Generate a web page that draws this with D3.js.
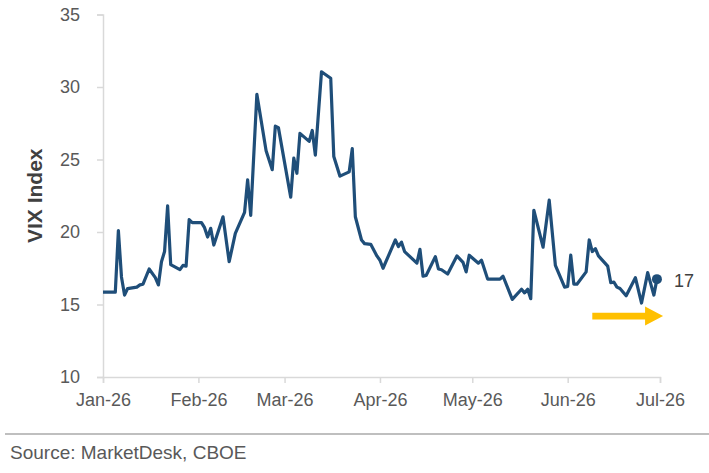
<!DOCTYPE html>
<html>
<head>
<meta charset="utf-8">
<script src="https://cdn.jsdelivr.net/npm/d3@7"></script>
<style>
  html, body { margin: 0; padding: 0; background: #fff; }
  svg { display: block; font-family: "Liberation Sans", Arial, sans-serif; }
</style>
</head>
<body>
<div id="chart"></div>
<script>
// VIX Index, daily closes (2026)
const dates = [
  '2026-01-01', '2026-01-05', '2026-01-06', '2026-01-07', '2026-01-08', '2026-01-09',
  '2026-01-12', '2026-01-13', '2026-01-14', '2026-01-16', '2026-01-18', '2026-01-19',
  '2026-01-20', '2026-01-21', '2026-01-22', '2026-01-23', '2026-01-26', '2026-01-27',
  '2026-01-28', '2026-01-29', '2026-01-30', '2026-02-02', '2026-02-03', '2026-02-04',
  '2026-02-05', '2026-02-06', '2026-02-09', '2026-02-11', '2026-02-13', '2026-02-16',
  '2026-02-17', '2026-02-18', '2026-02-20', '2026-02-23', '2026-02-25', '2026-02-26',
  '2026-02-27', '2026-03-03', '2026-03-04', '2026-03-05', '2026-03-06', '2026-03-09',
  '2026-03-10', '2026-03-11', '2026-03-13', '2026-03-16', '2026-03-17', '2026-03-19',
  '2026-03-22', '2026-03-23', '2026-03-24', '2026-03-26', '2026-03-27', '2026-03-29',
  '2026-03-31', '2026-04-01', '2026-04-02', '2026-04-06', '2026-04-07', '2026-04-08',
  '2026-04-09', '2026-04-13', '2026-04-14', '2026-04-15', '2026-04-16', '2026-04-19',
  '2026-04-20', '2026-04-21', '2026-04-23', '2026-04-26', '2026-04-28', '2026-04-29',
  '2026-04-30', '2026-05-03', '2026-05-04', '2026-05-06', '2026-05-10', '2026-05-11',
  '2026-05-14', '2026-05-17', '2026-05-18', '2026-05-19', '2026-05-20', '2026-05-21',
  '2026-05-24', '2026-05-26', '2026-05-28', '2026-05-31', '2026-06-01', '2026-06-02',
  '2026-06-03', '2026-06-04', '2026-06-07', '2026-06-08', '2026-06-09', '2026-06-10',
  '2026-06-11', '2026-06-14', '2026-06-15', '2026-06-16', '2026-06-17', '2026-06-18',
  '2026-06-20', '2026-06-23', '2026-06-25', '2026-06-27', '2026-06-29', '2026-06-30'
];
const vix = [
  15.85, 15.85, 20.1, 16.9, 15.65, 16.1,
  16.2, 16.35, 16.4, 17.45, 16.85, 16.35,
  17.95, 18.65, 21.8, 17.75, 17.4, 17.7,
  17.65, 20.85, 20.65, 20.65, 20.3, 19.65,
  20.25, 19.1, 21.05, 17.95, 19.9, 21.35,
  23.6, 21.15, 29.5, 25.6, 24.3, 27.3,
  27.2, 22.4, 25.1, 24.05, 26.8, 26.25,
  27.0, 25.3, 31.05, 30.6, 25.2, 23.85,
  24.15, 25.75, 21.05, 19.45, 19.2, 19.15,
  18.35, 18.05, 17.5, 19.45, 19.0, 19.3,
  18.65, 17.85, 18.8, 16.95, 17.0, 18.3,
  17.45, 17.4, 17.1, 18.35, 17.9, 17.25,
  18.4, 17.85, 18.05, 16.75, 16.75, 16.95,
  15.35, 16.05, 15.8, 16.05, 15.4, 21.5,
  18.95, 22.2, 17.7, 16.2, 16.25, 18.4,
  16.4, 16.4, 17.25, 19.45, 18.65, 18.85,
  18.35, 17.65, 16.5, 16.55, 16.2, 16.1,
  15.6, 16.85, 15.1, 17.2, 15.65, 16.75
];
const monthTicks = ['2026-01-01', '2026-02-01', '2026-03-01', '2026-04-01', '2026-05-01', '2026-06-01', '2026-07-01'];
const yTicks = [10, 15, 20, 25, 30, 35];
const lastLabel = '17';
const arrowSpan = ['2026-06-09', '2026-07-02']; // yellow "trend" arrow
const arrowLevel = 14.2;

const W = 709, H = 473;
const MARGIN = { top: 14.5, right: 49, bottom: 96, left: 103 };
const AXIS_COLOR = '#d9d9d9';
const TEXT_COLOR = '#595959';
const LINE_COLOR = '#1f4e79';

const parse = d3.timeParse('%Y-%m-%d');
const series = dates.map((d, i) => ({ date: parse(d), value: vix[i] }));

const svg = d3.select('#chart').append('svg')
  .attr('width', W)
  .attr('height', H);

const x = d3.scaleTime()
  .domain([parse(monthTicks[0]), parse(monthTicks[monthTicks.length - 1])])
  .range([MARGIN.left, W - MARGIN.right]);

const y = d3.scaleLinear()
  .domain([10, 35])
  .range([H - MARGIN.bottom, MARGIN.top]);

// y axis
const yAxis = svg.append('g')
  .attr('transform', `translate(${MARGIN.left},0)`)
  .call(d3.axisLeft(y).tickValues(yTicks).tickSize(6).tickPadding(17).tickFormat(d3.format('d')));
yAxis.select('.domain').attr('stroke', AXIS_COLOR).attr('stroke-width', 1.5);
yAxis.selectAll('.tick line').attr('stroke', AXIS_COLOR).attr('stroke-width', 1.5);
yAxis.selectAll('.tick text')
  .attr('fill', TEXT_COLOR)
  .style('font-size', '18px');

// x axis
const xAxis = svg.append('g')
  .attr('transform', `translate(0,${y(10)})`)
  .call(d3.axisBottom(x).tickValues(monthTicks.map(parse)).tickSize(6).tickPadding(10)
    .tickFormat(d3.timeFormat('%b-%y')));
xAxis.select('.domain').attr('stroke', AXIS_COLOR).attr('stroke-width', 1.5);
xAxis.selectAll('.tick line').attr('stroke', AXIS_COLOR).attr('stroke-width', 1.5);
xAxis.selectAll('.tick text')
  .attr('fill', TEXT_COLOR)
  .style('font-size', '18px');

// y label
svg.append('text')
  .attr('transform', `translate(42,${(y(10) + y(35)) / 2}) rotate(-90)`)
  .attr('text-anchor', 'middle')
  .attr('fill', '#404040')
  .style('font-size', '21px')
  .style('font-weight', 'bold')
  .text('VIX Index');

// series line
const line = d3.line()
  .x(d => x(d.date))
  .y(d => y(d.value));

svg.append('path')
  .datum(series)
  .attr('fill', 'none')
  .attr('stroke', LINE_COLOR)
  .attr('stroke-width', 3.2)
  .attr('stroke-linejoin', 'round')
  .attr('d', line);

const last = series[series.length - 1];
svg.append('circle')
  .attr('cx', x(last.date))
  .attr('cy', y(last.value))
  .attr('r', 5)
  .attr('fill', LINE_COLOR);

svg.append('text')
  .attr('x', x(last.date) + 17)
  .attr('y', y(last.value) + 8)
  .attr('fill', '#404040')
  .style('font-size', '18px')
  .text(lastLabel);

// yellow arrow
const ax0 = x(parse(arrowSpan[0]));
const ax1 = x(parse(arrowSpan[1]));
const ay = y(arrowLevel);
const headLen = 18, headHalf = 9.5, shaftHalf = 3.3;
svg.append('path')
  .attr('fill', '#ffc000')
  .attr('d', `M${ax0},${ay - shaftHalf} L${ax1 - headLen},${ay - shaftHalf} L${ax1 - headLen},${ay - headHalf}
    L${ax1},${ay} L${ax1 - headLen},${ay + headHalf} L${ax1 - headLen},${ay + shaftHalf} L${ax0},${ay + shaftHalf} Z`);

// source footer
svg.append('line')
  .attr('x1', 5).attr('x2', W)
  .attr('y1', 434).attr('y2', 434)
  .attr('stroke', '#bfbfbf')
  .attr('stroke-width', 2);

svg.append('text')
  .attr('x', 10)
  .attr('y', 459)
  .attr('fill', TEXT_COLOR)
  .style('font-size', '19px')
  .text('Source: MarketDesk, CBOE');
</script>
</body>
</html>
